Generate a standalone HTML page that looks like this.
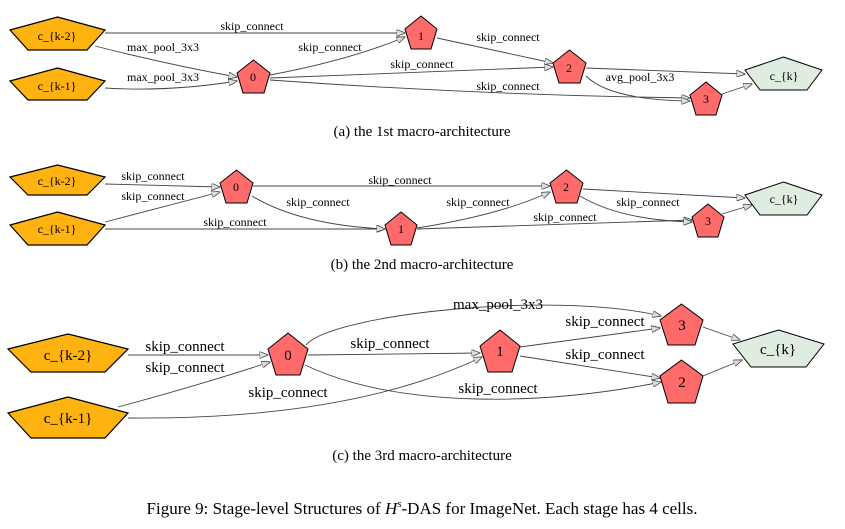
<!DOCTYPE html>
<html><head><meta charset="utf-8"><style>
html,body{margin:0;padding:0;background:#fff;}
svg{display:block;}
text{font-family:"Liberation Serif",serif;fill:#000;}
.l{font-size:12px;text-anchor:middle;}
.L{font-size:15px;text-anchor:middle;}
.cap{font-size:15px;text-anchor:middle;}
.e{fill:none;stroke:#444;stroke-width:0.9;marker-end:url(#a);}
.o{fill:#ffb310;stroke:#000;stroke-width:1.2;}
.r{fill:#ff6b6b;stroke:#000;stroke-width:1;}
.g{fill:#dfece0;stroke:#000;stroke-width:1;}
</style></head><body>
<svg width="845" height="529" viewBox="0 0 845 529" xmlns="http://www.w3.org/2000/svg">
<defs><marker id="a" markerWidth="9" markerHeight="7" refX="8.5" refY="3.5" orient="auto" markerUnits="userSpaceOnUse"><path d="M0,0 L9,3.5 L0,7 Z" fill="#ddd" stroke="#444" stroke-width="0.8"/></marker></defs>

<!-- (a) -->
<path class="e" d="M105,33 L405,33"/>
<path class="e" d="M95,46 Q170,65 237,77"/>
<path class="e" d="M105,88 Q170,92 237,81"/>
<path class="e" d="M270,75 Q350,60 405,37"/>
<path class="e" d="M270,78 Q420,72 553,67"/>
<path class="e" d="M270,80 Q480,95 690,98"/>
<path class="e" d="M437,38 L553,63"/>
<path class="e" d="M586,68 L745,74"/>
<path class="e" d="M586,76 Q610,100 690,101"/>
<path class="e" d="M722,94 L752,84"/>
<text class="l" x="252" y="30">skip_connect</text>
<text class="l" x="163" y="51">max_pool_3x3</text>
<text class="l" x="163" y="81">max_pool_3x3</text>
<text class="l" x="330" y="51">skip_connect</text>
<text class="l" x="422" y="68">skip_connect</text>
<text class="l" x="508" y="90">skip_connect</text>
<text class="l" x="508" y="41">skip_connect</text>
<text class="l" x="640" y="81">avg_pool_3x3</text>
<polygon class="o" points="57.5,17 105,30 87,50 28,50 10,30"/><text class="l" x="57" y="40">c_{k-2}</text>
<polygon class="o" points="57.5,68 105,81 87,100 28,100 10,81"/><text class="l" x="57" y="90">c_{k-1}</text>
<polygon class="r" points="253.5,60 270,73 264,93 243,93 237,73"/><text class="l" x="253" y="81">0</text>
<polygon class="r" points="421,16 437,29 431,49 411,49 405,29"/><text class="l" x="421" y="40">1</text>
<polygon class="r" points="569.5,50 586,63 580,83 559,83 553,63"/><text class="l" x="569" y="72">2</text>
<polygon class="r" points="706,82 722,95 716,115 696,115 690,95"/><text class="l" x="706" y="103">3</text>
<polygon class="g" points="783.5,57 822,70 807,90 760,90 745,70"/><text class="l" x="784" y="80">c_{k}</text>
<text class="cap" x="422" y="136">(a)  the 1st macro-architecture</text>

<!-- (b) -->
<path class="e" d="M105,184 L220,187"/>
<path class="e" d="M105,222 Q170,205 220,192"/>
<path class="e" d="M105,229 L385,229"/>
<path class="e" d="M253,186 L550,186"/>
<path class="e" d="M252,196 Q300,225 385,229"/>
<path class="e" d="M417,228 Q500,215 550,192"/>
<path class="e" d="M417,229 L692,220"/>
<path class="e" d="M583,189 L745,198"/>
<path class="e" d="M580,196 Q620,220 692,222"/>
<path class="e" d="M722,214 L752,205"/>
<text class="l" x="153" y="180">skip_connect</text>
<text class="l" x="153" y="200">skip_connect</text>
<text class="l" x="235" y="226">skip_connect</text>
<text class="l" x="400" y="184">skip_connect</text>
<text class="l" x="318" y="206">skip_connect</text>
<text class="l" x="478" y="206">skip_connect</text>
<text class="l" x="565" y="221">skip_connect</text>
<text class="l" x="648" y="206">skip_connect</text>
<polygon class="o" points="57.5,165 105,177 87,195 28,195 10,177"/><text class="l" x="57" y="185">c_{k-2}</text>
<polygon class="o" points="57.5,212 105,225 87,245 28,245 10,225"/><text class="l" x="57" y="233">c_{k-1}</text>
<polygon class="r" points="236.5,170 253,183 247,203 226,203 220,183"/><text class="l" x="236" y="191">0</text>
<polygon class="r" points="401,212 417,225 411,245 391,245 385,225"/><text class="l" x="401" y="233">1</text>
<polygon class="r" points="566.5,170 583,183 577,203 556,203 550,183"/><text class="l" x="566" y="191">2</text>
<polygon class="r" points="708,204 724,217 718,237 698,237 692,217"/><text class="l" x="708" y="225">3</text>
<polygon class="g" points="783.5,182 822,195 807,215 760,215 745,195"/><text class="l" x="784" y="203">c_{k}</text>
<text class="cap" x="422" y="269">(b)  the 2nd macro-architecture</text>

<!-- (c) -->
<path class="e" d="M128,355 L268,355"/>
<path class="e" d="M118,407 Q200,385 270,362"/>
<path class="e" d="M128,418 Q350,420 482,357"/>
<path class="e" d="M308,355 L480,353"/>
<path class="e" d="M306,345 C330,315 550,290 661,316"/>
<path class="e" d="M305,365 C400,410 550,405 661,382"/>
<path class="e" d="M520,347 L660,328"/>
<path class="e" d="M520,356 L660,378"/>
<path class="e" d="M703,327 L740,340"/>
<path class="e" d="M703,376 L742,360"/>
<text class="L" x="185" y="351">skip_connect</text>
<text class="L" x="185" y="372">skip_connect</text>
<text class="L" x="288" y="397">skip_connect</text>
<text class="L" x="390" y="348">skip_connect</text>
<text class="L" x="498" y="309">max_pool_3x3</text>
<text class="L" x="498" y="393">skip_connect</text>
<text class="L" x="605" y="326">skip_connect</text>
<text class="L" x="605" y="359">skip_connect</text>
<polygon class="o" points="68,334 128,349 105,372 31,372 8,349"/><text class="L" x="68" y="360">c_{k-2}</text>
<polygon class="o" points="68,397 128,413 105,438 31,438 8,413"/><text class="L" x="68" y="423">c_{k-1}</text>
<polygon class="r" points="288,333 308,349 300,375 276,375 268,349"/><text class="L" x="288" y="360">0</text>
<polygon class="r" points="500,330 520,346 512,372 488,372 480,346"/><text class="L" x="500" y="356">1</text>
<polygon class="r" points="681.5,304 703,320 695,345 668,345 660,320"/><text class="L" x="682" y="330">3</text>
<polygon class="r" points="681.5,360 703,376 695,403 668,403 660,376"/><text class="L" x="682" y="387">2</text>
<polygon class="g" points="778.5,330 824,344 806,367 751,367 733,344"/><text class="L" x="778" y="354">c_{k}</text>
<text class="cap" x="422" y="460">(c)  the 3rd macro-architecture</text>

<text x="422" y="514" style="font-size:17px;text-anchor:middle">Figure 9: Stage-level Structures of <tspan font-style="italic">H</tspan><tspan font-size="11" dy="-7" font-style="italic">s</tspan><tspan dy="7">-DAS for ImageNet. Each stage has 4 cells.</tspan></text>
</svg>
</body></html>
